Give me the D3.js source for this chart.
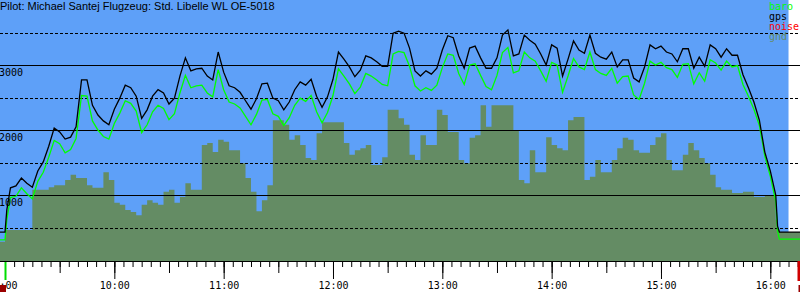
<!DOCTYPE html>
<html>
<head>
<meta charset="utf-8">
<script src="https://cdn.jsdelivr.net/npm/d3@7"></script>
<style>
  body { margin: 0; background: #fff; }
  svg { display: block; }
</style>
</head>
<body>
<div id="barogramm"></div>
<script>
const titel = "Pilot: Michael Santej Flugzeug: Std. Libelle WL OE-5018";

const zeiten = [
  "08:57","09:00","09:01","09:03","09:06","09:09","09:12","09:15","09:18","09:21","09:24",
  "09:27","09:30","09:33","09:36","09:39","09:42","09:45","09:48","09:51","09:54","09:57",
  "10:00","10:03","10:06","10:09","10:12","10:15","10:18","10:21","10:24","10:27",
  "10:30","10:33","10:36","10:39","10:42","10:45","10:48","10:51","10:54","10:57",
  "11:00","11:03","11:06","11:09","11:12","11:15","11:18","11:21","11:24","11:27",
  "11:30","11:33","11:36","11:39","11:42","11:45","11:48","11:51","11:54","11:57",
  "12:00","12:03","12:06","12:09","12:12","12:15","12:18","12:21","12:24","12:27",
  "12:30","12:33","12:36","12:39","12:42","12:45","12:48","12:51","12:54","12:57",
  "13:00","13:03","13:06","13:09","13:12","13:15","13:18","13:21","13:24","13:27",
  "13:30","13:33","13:36","13:39","13:42","13:45","13:48","13:51","13:54","13:57",
  "14:00","14:03","14:06","14:09","14:12","14:15","14:18","14:21","14:24","14:27",
  "14:30","14:33","14:36","14:39","14:42","14:45","14:48","14:51","14:54","14:57",
  "15:00","15:03","15:06","15:09","15:12","15:15","15:18","15:21","15:24","15:27",
  "15:30","15:33","15:36","15:39","15:42","15:45","15:48","15:51","15:54","15:57",
  "16:00","16:03","16:04","16:05","16:09","16:15","16:20"
];

const gpsHoehe = [
  430,430,770,1110,1140,1260,1180,1120,1370,1510,1750,
  2030,1970,1860,1890,2050,2770,2770,2380,2230,2140,2080,
  2320,2490,2690,2650,2520,2180,2310,2520,2620,2570,
  2400,2490,2830,3110,2910,2940,2950,2830,2770,3200,
  2890,2680,2650,2580,2450,2320,2480,2710,2720,2490,
  2450,2310,2430,2620,2740,2690,2780,2520,2350,2510,
  2780,3200,3090,2970,2820,2920,3140,3110,3050,2980,
  2980,3490,3520,3490,3260,2910,2830,2910,2860,2950,
  3230,3450,3420,3140,2950,3260,3290,3110,2950,2950,
  3110,3460,3540,3140,3170,3460,3380,3320,3170,3000,
  3310,3260,2830,3090,3370,3230,3180,3460,3180,3120,
  3090,3200,2970,3080,3080,2800,2740,2970,3310,3250,
  3290,3200,3170,3050,3250,3250,2950,3120,2980,3310,
  3250,3120,3250,3150,3150,2850,2650,2430,2150,1660,
  1370,1000,520,430,430,430,430
];

const baroHoehe = [
  310,310,620,960,980,1110,1020,940,1210,1350,1580,
  1840,1790,1650,1700,1870,2530,2520,2140,2000,1900,1860,
  2100,2260,2450,2410,2290,1960,2080,2280,2380,2330,
  2160,2250,2570,2840,2650,2680,2690,2570,2510,2930,
  2620,2430,2400,2340,2210,2080,2240,2460,2470,2250,
  2210,2070,2190,2380,2490,2440,2530,2280,2110,2270,
  2530,2940,2830,2710,2560,2660,2870,2830,2770,2700,
  2680,3170,3210,3190,2980,2680,2600,2650,2610,2690,
  2960,3170,3150,2870,2700,3000,3020,2840,2670,2620,
  2840,3190,3270,2880,2910,3200,3110,3060,2910,2750,
  3040,3000,2580,2830,3100,2970,2930,3200,2930,2870,
  2840,2950,2720,2820,2830,2540,2470,2720,3060,3000,
  3040,2960,2930,2810,3010,3020,2710,2880,2750,3080,
  3030,2920,3060,2970,2990,2700,2520,2320,2070,1600,
  1290,900,450,320,320,320,320
];

const gndHoehe = [
  280,460,460,460,460,460,460,1080,1080,1080,1120,
  1150,1150,1230,1310,1260,1260,1150,1110,1110,1350,1230,
  880,850,770,740,690,850,920,880,850,1050,
  1080,880,970,1180,1080,1080,1770,1800,1660,1850,
  1820,1690,1690,1490,1260,1050,750,920,1150,2150,
  2150,2080,1850,1920,1770,1570,1540,1950,2120,2120,
  2120,2120,1800,1620,1690,1720,1770,1460,1460,1580,
  2310,2310,2180,2080,1620,1540,1920,1770,1770,2310,
  2230,1970,1970,1540,1490,1880,1920,2380,2050,2380,
  2380,2380,2380,2000,1230,1180,1690,1350,1350,1890,
  1770,1720,1690,2150,2200,2200,1230,1280,1540,1350,
  1350,1540,1720,1880,1850,1690,1650,1650,1770,1890,
  1950,1540,1380,1380,1620,1800,1690,1570,1490,1310,
  1120,1080,1080,1030,1030,1050,1050,970,970,1000,
  1000,620,460,430,430,430,430
];

const hoehenLinien = [500, 1000, 1500, 2000, 2500, 3000, 3500];
const hoehenBeschriftung = [1000, 2000, 3000];
const legendenNamen = ["baro", "gps", "noise", "gnd"];
const startZeit = "09:00";
const endeDaten = "16:10";

console.assert(zeiten.length === gpsHoehe.length && zeiten.length === baroHoehe.length && zeiten.length === gndHoehe.length, "Längen passen nicht");

const parse = d3.timeParse("%H:%M");
const daten = zeiten.map((z, i) => ({
  zeit: parse(z),
  gps: gpsHoehe[i],
  baro: baroHoehe[i],
  gnd: gndHoehe[i]
}));

const breite = 800, hoehe = 300;
const unten = 261;

const svg = d3.select("#barogramm")
  .append("svg")
  .attr("width", breite)
  .attr("height", hoehe);

const x = d3.scaleTime()
  .domain([parse("09:00"), parse("16:00")])
  .range([5, 770.3]);

const y = d3.scaleLinear()
  .domain([0, 4000])
  .range([260, 0]);

const farben = { baro: "#00ff00", gps: "#000000", noise: "#ff0000", gnd: "#668c66" };

// Himmel
svg.append("rect")
  .attr("x", 0).attr("y", 0)
  .attr("width", x(parse(endeDaten)))
  .attr("height", unten)
  .attr("fill", "#5ea0f8");

// Gelände
svg.append("path")
  .datum(daten)
  .attr("fill", "#648c64")
  .attr("d", d3.area()
    .curve(d3.curveStepAfter)
    .x(d => x(d.zeit))
    .y0(unten)
    .y1(d => y(d.gnd)));

// Höhenlinien
svg.selectAll(".gitter")
  .data(hoehenLinien)
  .enter()
  .append("line")
  .attr("x1", 0).attr("x2", breite)
  .attr("y1", d => Math.round(y(d)) + 0.5)
  .attr("y2", d => Math.round(y(d)) + 0.5)
  .attr("stroke", "#000")
  .attr("stroke-width", 1)
  .attr("stroke-dasharray", d => d % 1000 === 0 ? null : "3,2");

// Baro und GPS
const linie = key => d3.line()
  .x(d => x(d.zeit))
  .y(d => y(d[key]));

svg.append("path")
  .datum(daten)
  .attr("fill", "none")
  .attr("stroke", farben.baro)
  .attr("stroke-width", 1.3)
  .attr("d", linie("baro"));

svg.append("path")
  .datum(daten)
  .attr("fill", "none")
  .attr("stroke", farben.gps)
  .attr("stroke-width", 1.3)
  .attr("d", linie("gps"));

// Höhenbeschriftung
svg.selectAll(".hlabel")
  .data(hoehenBeschriftung)
  .enter()
  .append("text")
  .attr("x", -1)
  .attr("y", d => Math.round(y(d)) + 10.5)
  .style("font", "10px 'DejaVu Sans Mono', monospace")
  .attr("fill", "#000")
  .text(d => d);

// Zeitachse
svg.append("line")
  .attr("x1", 0).attr("x2", breite)
  .attr("y1", unten + 0.5).attr("y2", unten + 0.5)
  .attr("stroke", "#000");

const alle5 = d3.timeMinute.every(5).range(parse("09:00"), parse("16:20"));
const alle30 = alle5.filter(d => d.getMinutes() % 30 === 0);
const stunden = alle5.filter(d => d.getMinutes() === 0);

function achse(werte, laenge, mitText) {
  const g = svg.append("g")
    .attr("transform", `translate(0, ${unten})`)
    .call(d3.axisBottom(x)
      .tickValues(werte)
      .tickSize(laenge)
      .tickPadding(3)
      .tickFormat(mitText ? d3.timeFormat("%-H:%M") : ""));
  g.select(".domain").remove();
  g.selectAll("text")
    .style("font", "10px 'DejaVu Sans Mono', monospace")
    .attr("fill", "#000");
  return g;
}
achse(alle5, 6, false);
achse(alle30, 12, false);
achse(stunden, 18, true);

// Start- und Lärmmarken
svg.append("rect")
  .attr("x", x(parse(startZeit)) - 0.5).attr("y", unten + 1)
  .attr("width", 2).attr("height", 18)
  .attr("fill", "#00dd00");
svg.append("rect")
  .attr("x", 0).attr("y", 285).attr("width", 6).attr("height", 7)
  .attr("fill", "#9a0000");
svg.append("rect")
  .attr("x", 797.5).attr("y", unten).attr("width", 3).attr("height", 20)
  .attr("fill", "#d00000");
svg.append("rect")
  .attr("x", 798.5).attr("y", 285).attr("width", 2).attr("height", 7)
  .attr("fill", "#9a0000");

// Titel
svg.append("text")
  .attr("x", 0).attr("y", 10)
  .style("font", "11px 'Liberation Sans', Arial, sans-serif")
  .attr("fill", "#000")
  .text(titel);

// Legende
svg.selectAll(".legende")
  .data(legendenNamen)
  .enter()
  .append("text")
  .attr("x", 769)
  .attr("y", (d, i) => 10 + i * 10)
  .style("font", "10px 'DejaVu Sans Mono', monospace")
  .attr("fill", d => farben[d])
  .text(d => d);
</script>
</body>
</html>
